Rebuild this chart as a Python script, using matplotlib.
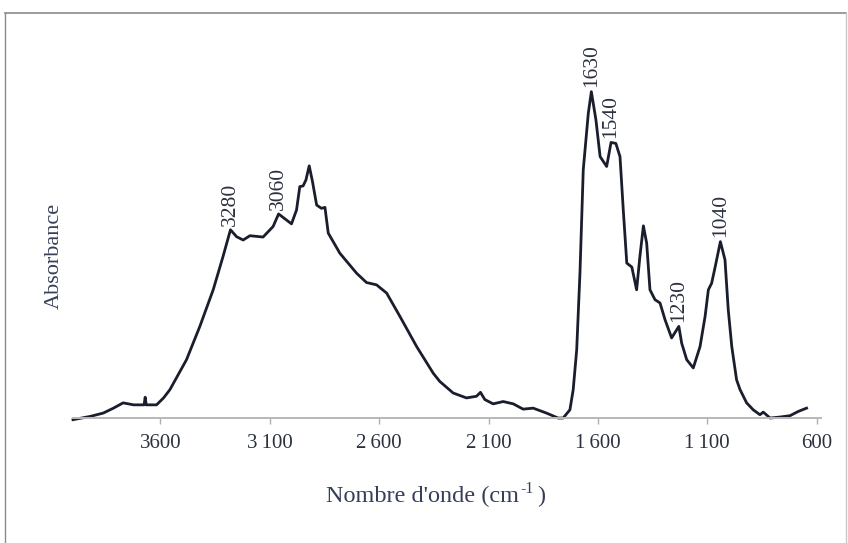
import matplotlib
matplotlib.use("Agg")
import matplotlib.pyplot as plt
import numpy as np

# FTIR spectrum: wavenumber (cm-1) and absorbance (arbitrary units)
wavenumber = [4000, 3921, 3862, 3815, 3771, 3723, 3675, 3670, 3665, 3618, 3586,
              3557, 3481, 3420, 3359, 3314, 3280, 3252, 3222, 3191, 3131, 3085,
              3060, 3001, 2978, 2963, 2948, 2935, 2920, 2905, 2886, 2864, 2848,
              2833, 2780, 2703, 2658, 2612, 2566, 2505, 2429, 2353, 2323, 2262,
              2201, 2155, 2137, 2117, 2079, 2033, 1987, 1942, 1896, 1835, 1782,
              1759, 1728, 1713, 1697, 1682, 1667, 1644, 1630, 1609, 1590, 1560,
              1540, 1518, 1499, 1484, 1468, 1445, 1423, 1408, 1392, 1377, 1362,
              1339, 1316, 1293, 1263, 1230, 1217, 1194, 1164, 1133, 1110, 1095,
              1080, 1065, 1040, 1019, 1004, 988, 966, 950, 920, 890, 859, 844,
              813, 768, 722, 684, 646]
absorbance = [-0.006, 0.004, 0.014, 0.029, 0.045, 0.039, 0.039, 0.062, 0.039, 0.039, 0.060,
              0.085, 0.176, 0.277, 0.388, 0.489, 0.570, 0.549, 0.539, 0.552, 0.548, 0.580,
              0.618, 0.588, 0.630, 0.701, 0.703, 0.721, 0.764, 0.716, 0.645, 0.635, 0.638,
              0.560, 0.499, 0.438, 0.410, 0.403, 0.378, 0.307, 0.216, 0.135, 0.110, 0.075,
              0.060, 0.065, 0.077, 0.055, 0.042, 0.049, 0.042, 0.026, 0.029, 0.014, -0.001,
              -0.001, 0.024, 0.085, 0.206, 0.440, 0.752, 0.923, 0.989, 0.903, 0.792, 0.762,
              0.835, 0.832, 0.792, 0.630, 0.469, 0.457, 0.388, 0.489, 0.582, 0.529, 0.388,
              0.358, 0.348, 0.297, 0.242, 0.277, 0.226, 0.176, 0.151, 0.216, 0.307, 0.388,
              0.408, 0.454, 0.534, 0.479, 0.327, 0.216, 0.115, 0.085, 0.045, 0.024, 0.009, 0.017,
              -0.001, 0.002, 0.006, 0.019, 0.029]

peak_positions = [3280, 3060, 1630, 1540, 1230, 1040]
peak_labels = ["3280", "3060", "1630", "1540", "1230", "1040"]

tick_values = [3600, 3100, 2600, 2100, 1600, 1100, 600]
tick_labels = ["3600", "3\u2009100", "2\u2009600", "2\u2009100", "1\u2009600", "1\u2009100", "600"]

plt.rcParams["font.family"] = ["Liberation Serif", "DejaVu Serif"]

W, H = 848, 543
fig = plt.figure(figsize=(W / 100, H / 100), dpi=100)

# axes placement in pixels
left_px, right_px, top_px, bottom_px = 73, 821, 30, 421
ax = fig.add_axes([left_px / W, 1 - bottom_px / H,
                   (right_px - left_px) / W, (bottom_px - top_px) / H])

line_color = "#1a1e2c"
text_color = "#2c3140"
label_color = "#353f58"

ax.plot(wavenumber, absorbance, color=line_color, lw=2.0, clip_on=False,
        solid_joinstyle="round")

ax.set_xlim(4000, 580)
ax.set_ylim(-0.01, 1.176)

for s in ["left", "right", "top"]:
    ax.spines[s].set_visible(False)
ax.spines["bottom"].set_position(("data", 0))
ax.spines["bottom"].set_color("#b8b8b8")
ax.spines["bottom"].set_linewidth(1.4)

ax.set_yticks([])
ax.set_xticks(tick_values)
ax.set_xticklabels(tick_labels)
ax.tick_params(axis="x", direction="out", length=4.5, width=1, color="#b0b0b0",
               pad=7, labelsize=15, labelcolor=text_color)

wn_inc = np.array(wavenumber[::-1])
ab_inc = np.array(absorbance[::-1])
for pos, lab in zip(peak_positions, peak_labels):
    yv = np.interp(pos, wn_inc, ab_inc)
    ax.annotate(lab, xy=(pos, yv), xytext=(0, 3), textcoords="offset points",
                rotation=90, ha="center", va="bottom", fontsize=15.5,
                color=text_color)

fig.text(54 / W, 1 - 256 / H, "Absorbance", rotation=90, ha="center", va="center",
         fontsize=16, color=label_color)

# axis title with a small raised "-1"
xl = fig.text(326 / W, 1 - 496 / H, "Nombre d'onde (cm", ha="left",
              va="center", fontsize=17.5, color=label_color)
fig.canvas.draw()
bb = xl.get_window_extent()
sup = fig.text((bb.x1 + 1) / W, 1 - 489 / H, "-1", ha="left", va="center",
               fontsize=11.5, color=label_color)
bb2 = sup.get_window_extent(renderer=fig.canvas.get_renderer())
fig.text((bb2.x1 + 4) / W, 1 - 496 / H, ")", ha="left", va="center",
         fontsize=17.5, color=label_color)

# thin frame around the figure
frame_color = "#8a8a8a"
fig.add_artist(plt.Line2D([5 / W, 5 / W], [0, 1 - 13 / H], transform=fig.transFigure,
                          color=frame_color, lw=1))
fig.add_artist(plt.Line2D([5 / W, 846 / W], [1 - 13 / H, 1 - 13 / H], transform=fig.transFigure,
                          color=frame_color, lw=1.2))
fig.add_artist(plt.Line2D([846 / W, 846 / W], [0, 1 - 13 / H], transform=fig.transFigure,
                          color="#c8c8c8", lw=1))

fig.savefig("out.png", dpi=100)
